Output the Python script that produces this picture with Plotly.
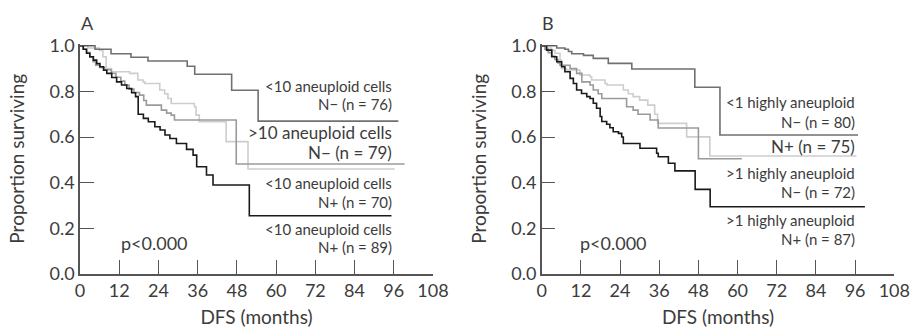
import plotly.graph_objects as go
from plotly.subplots import make_subplots

# ---------------- Panel A data ----------------
a1_t = [0, 4.6, 9.5, 15.6, 20.8, 32.8, 35.1, 46.4, 54.5]
a1_s = [1.0, 0.985, 0.965, 0.950, 0.933, 0.910, 0.875, 0.805, 0.670]
a1_end = 97.4

a2_t = [0, 1, 2, 3, 4, 4.8, 6, 7.5, 9.6, 11, 12.5, 13.7, 15, 16.5, 18.2, 19.5, 20.3, 24.9, 26.5, 27.9, 28.9, 47.8]
a2_s = [1.0, 0.985, 0.97, 0.95, 0.93, 0.915, 0.905, 0.895, 0.879, 0.862, 0.845, 0.828, 0.81, 0.795, 0.784, 0.76, 0.74, 0.718, 0.705, 0.696, 0.675, 0.482]
a2_end = 99.3

a3_t = [0, 2.4, 6.0, 7.0, 8.0, 9.6, 15.2, 17.7, 19.3, 19.8, 24.4, 25.9, 26.9, 27.9, 35.0, 35.5, 36.5, 44.7, 51.4]
a3_s = [1.0, 0.99, 0.98, 0.952, 0.90, 0.886, 0.879, 0.85, 0.842, 0.835, 0.806, 0.79, 0.769, 0.747, 0.733, 0.696, 0.667, 0.58, 0.46]
a3_end = 96.3

a4_t = [0, 1, 2, 3, 4.1, 5.1, 6.1, 7.2, 8.2, 9.7, 11.2, 12.7, 14.3, 15.8, 17.0, 17.8, 19.4, 20.9, 22.9, 24.5, 26.0, 27.5, 29.5, 32.6, 34.6, 35.7, 38.7, 40.7, 51.8]
a4_s = [1.0, 0.985, 0.967, 0.952, 0.937, 0.922, 0.908, 0.893, 0.879, 0.861, 0.842, 0.828, 0.813, 0.794, 0.777, 0.70, 0.682, 0.667, 0.645, 0.631, 0.609, 0.594, 0.572, 0.546, 0.521, 0.47, 0.434, 0.39, 0.255]
a4_end = 95.3

# ---------------- Panel B data ----------------
b1_t = [0, 4.6, 7.1, 8.2, 9.2, 12.8, 15.8, 20.4, 27.6, 46.9, 54.6]
b1_s = [1.0, 0.99, 0.985, 0.975, 0.965, 0.958, 0.945, 0.923, 0.898, 0.818, 0.609]
b1_end = 96.9

b2_t = [0, 1.5, 3, 4.1, 5.6, 6.1, 7.6, 11.7, 14.8, 15.3, 19.4, 20.0, 25.0, 26.5, 28.0, 30.0, 32.5, 34.6, 35.5, 44.4, 51.5]
b2_s = [1.0, 0.99, 0.98, 0.967, 0.937, 0.90, 0.894, 0.872, 0.864, 0.85, 0.835, 0.828, 0.806, 0.79, 0.777, 0.762, 0.74, 0.70, 0.66, 0.601, 0.517]
b2_end = 96.4

b3_t = [0, 1, 2, 3, 4, 5, 5.6, 8.7, 10.7, 12.3, 14.8, 15.8, 17.3, 18.4, 26.0, 28.0, 29.5, 33.2, 35.7, 48.0]
b3_s = [1.0, 0.985, 0.97, 0.955, 0.94, 0.925, 0.915, 0.90, 0.879, 0.842, 0.828, 0.806, 0.79, 0.769, 0.733, 0.718, 0.70, 0.675, 0.64, 0.505]
b3_end = 61.3

b4_t = [0, 1.5, 3.1, 4.6, 6.1, 7.1, 8.7, 9.7, 10.7, 12.2, 13.8, 14.8, 15.8, 16.8, 17.9, 18.4, 19.9, 20.9, 21.9, 23.5, 24.5, 25.0, 30.1, 35.2, 35.7, 38.8, 40.8, 47.0, 51.6]
b4_s = [1.0, 0.981, 0.952, 0.93, 0.908, 0.886, 0.857, 0.835, 0.806, 0.791, 0.777, 0.769, 0.748, 0.726, 0.69, 0.668, 0.656, 0.641, 0.623, 0.616, 0.60, 0.572, 0.551, 0.529, 0.514, 0.485, 0.452, 0.371, 0.295]
b4_end = 99.0

x_ticks = [0, 12, 24, 36, 48, 60, 72, 84, 96, 108]
y_ticks = [0.0, 0.2, 0.4, 0.6, 0.8, 1.0]
y_tick_text = ["0.0", "0.2", "0.4", "0.6", "0.8", "1.0"]

labels_a = [
    ("<10 aneuploid cells", 0.823, 15), ("N\u2212 (n = 76)", 0.745, 15),
    (">10 aneuploid cells", 0.620, 17), ("N\u2212 (n = 79)", 0.532, 17),
    ("<10 aneuploid cells", 0.399, 15), ("N+ (n = 70)", 0.315, 15),
    ("<10 aneuploid cells", 0.197, 15), ("N+ (n = 89)", 0.118, 15),
]
labels_b = [
    ("<1 highly aneuploid", 0.755, 15), ("N\u2212 (n = 80)", 0.667, 15),
    ("N+ (n = 75)", 0.558, 17),
    (">1 highly aneuploid", 0.444, 15), ("N\u2212 (n = 72)", 0.36, 15),
    (">1 highly aneuploid", 0.237, 15), ("N+ (n = 87)", 0.152, 15),
]

FONT = "Lato"
TXT = "#3c3c3c"
C_TOP = "#707070"
C_MID = "#9a9a9a"
C_LIGHT = "#cdcdcd"
C_BLACK = "#1a1a1a"

fig = make_subplots(rows=1, cols=2)


def add_curve(t, s, end, color, col):
    xs = list(t) + [end]
    ys = list(s) + [s[-1]]
    fig.add_trace(go.Scatter(x=xs, y=ys, mode="lines", line=dict(color=color, width=1.6, shape="hv"),
                             showlegend=False, hoverinfo="skip"), row=1, col=col)


add_curve(a3_t, a3_s, a3_end, C_LIGHT, 1)
add_curve(a2_t, a2_s, a2_end, C_MID, 1)
add_curve(a1_t, a1_s, a1_end, C_TOP, 1)
add_curve(a4_t, a4_s, a4_end, C_BLACK, 1)

add_curve(b2_t, b2_s, b2_end, C_LIGHT, 2)
add_curve(b3_t, b3_s, b3_end, C_MID, 2)
add_curve(b1_t, b1_s, b1_end, C_TOP, 2)
add_curve(b4_t, b4_s, b4_end, C_BLACK, 2)

W, H = 911, 328
y_dom = [(H - 274) / H, (H - 43.5) / H]
axis_common = dict(showgrid=False, zeroline=False, showline=True, linecolor="#555555", linewidth=1.5,
                   ticks="inside", ticklen=14, tickwidth=1.3, tickcolor="#555555", automargin=False,
                   tickfont=dict(family=FONT, size=18, color=TXT))

fig.update_xaxes(**axis_common, range=[0, 108], tickvals=x_ticks, ticktext=[str(v) for v in x_ticks],
                 title=dict(text="DFS (months)", font=dict(family=FONT, size=19, color=TXT), standoff=10))
fig.update_yaxes(**axis_common, range=[0, 1.01], tickvals=y_ticks, ticktext=y_tick_text,
                 title=dict(text="Proportion surviving", font=dict(family=FONT, size=19, color=TXT), standoff=20),
                 domain=y_dom)
fig.update_xaxes(domain=[80 / W, 433 / W], row=1, col=1)
fig.update_xaxes(domain=[541.7 / W, 894.3 / W], row=1, col=2)

annotations = []
for text, yv, fs in labels_a:
    annotations.append(dict(x=96.0, y=yv, xref="x", yref="y", text=text, showarrow=False,
                            xanchor="right", yanchor="middle", font=dict(family=FONT, size=fs, color=TXT)))
for text, yv, fs in labels_b:
    annotations.append(dict(x=96.5, y=yv, xref="x2", yref="y2", text=text, showarrow=False,
                            xanchor="right", yanchor="middle", font=dict(family=FONT, size=fs, color=TXT)))
annotations.append(dict(x=11.9, y=0.136, xref="x", yref="y", text="p<0.000", showarrow=False,
                        xanchor="left", yanchor="middle", font=dict(family=FONT, size=18, color=TXT)))
annotations.append(dict(x=11.0, y=0.136, xref="x2", yref="y2", text="p<0.000", showarrow=False,
                        xanchor="left", yanchor="middle", font=dict(family=FONT, size=18, color=TXT)))
annotations.append(dict(x=79 / W, y=(H - 23) / H, xref="paper", yref="paper", text="A", showarrow=False,
                        xanchor="left", yanchor="middle", font=dict(family=FONT, size=18, color=TXT)))
annotations.append(dict(x=540 / W, y=(H - 23) / H, xref="paper", yref="paper", text="B", showarrow=False,
                        xanchor="left", yanchor="middle", font=dict(family=FONT, size=18, color=TXT)))

fig.update_layout(width=W, height=H, margin=dict(l=0, r=0, t=0, b=0),
                  paper_bgcolor="white", plot_bgcolor="white", annotations=annotations,
                  font=dict(family=FONT, color=TXT))

fig.write_html("out.html", config={"displayModeBar": False},
               post_script="document.body.style.margin='0';document.body.style.overflow='hidden';")
